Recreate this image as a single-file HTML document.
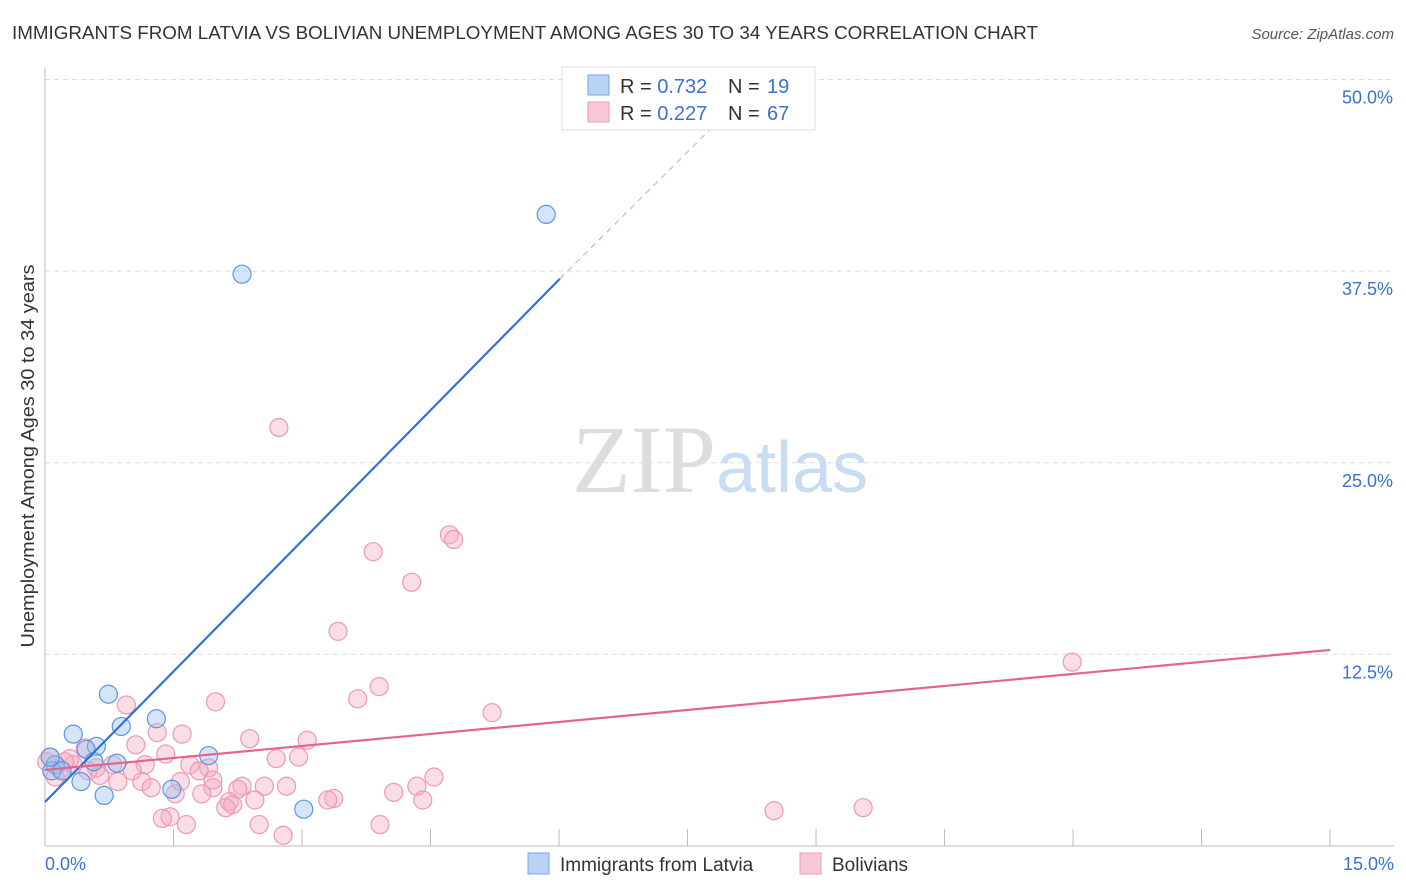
<!DOCTYPE html>
<html><head><meta charset="utf-8"><style>
body{margin:0;background:#fff;font-family:"Liberation Sans",sans-serif}
svg{display:block}
</style></head><body>
<svg id="chart" width="1406" height="892">
<text x="12" y="39" font-size="18" fill="#333" textLength="1026" lengthAdjust="spacingAndGlyphs">IMMIGRANTS FROM LATVIA VS BOLIVIAN UNEMPLOYMENT AMONG AGES 30 TO 34 YEARS CORRELATION CHART</text>
<text x="1394" y="39" font-size="15" fill="#555" font-style="italic" text-anchor="end">Source: ZipAtlas.com</text>
<text x="720" y="492" font-size="96" fill="#ddd" text-anchor="middle" font-family="Liberation Serif,serif">ZIP<tspan fill="#c9dcf2" font-family="Liberation Sans,sans-serif" font-size="72">atlas</tspan></text>
<text transform="translate(34,456) rotate(-90)" font-size="18" fill="#333" text-anchor="middle" textLength="383" lengthAdjust="spacingAndGlyphs">Unemployment Among Ages 30 to 34 years</text>
<g id="grid"></g><g id="pts"></g><g id="lines"></g>
<g>
<rect x="562" y="67" width="253" height="63" fill="#fff" stroke="#ddd"/>
<rect x="588" y="75" width="21" height="20" fill="#b8d3f5" stroke="#7aa7e0"/>
<rect x="588" y="102" width="21" height="20" fill="#f9c8d6" stroke="#eb9ab2"/>
<text x="620" y="93" font-size="20" fill="#333">R = <tspan fill="#3a72d0">0.732</tspan><tspan x="728">N = </tspan><tspan fill="#3a72d0" x="767">19</tspan></text>
<text x="620" y="120" font-size="20" fill="#333">R = <tspan fill="#3a72d0">0.227</tspan><tspan x="728">N = </tspan><tspan fill="#3a72d0" x="767">67</tspan></text>
</g>
<g>
<rect x="528" y="853" width="21" height="21" fill="#b8d3f5" stroke="#7aa7e0"/>
<text x="560" y="871" font-size="19" fill="#333">Immigrants from Latvia</text>
<rect x="800" y="853" width="21" height="21" fill="#f9c8d6" stroke="#eb9ab2"/>
<text x="832" y="871" font-size="19" fill="#333">Bolivians</text>
</g>
</svg>
<script>
const xTicks=[0,15];
const yTicks=[12.5,25,37.5,50];
const latviaX=[2.30,5.85,0.74,1.30,0.89,0.33,0.60,0.48,1.91,0.84,0.57,0.12,0.08,0.20,0.42,0.69,1.48,3.02,0.06];
const latviaY=[37.3,41.2,9.9,8.3,7.8,7.3,6.5,6.3,5.9,5.4,5.5,5.3,4.9,4.9,4.2,3.3,3.7,2.4,5.8];
const bolX=[2.73,4.72,4.77,3.83,4.28,3.42,11.99,3.90,3.65,1.99,0.95,5.22,1.60,1.31,2.39,3.06,1.06,1.41,0.47,2.96,2.70,1.69,1.91,1.80,1.17,0.79,0.60,0.50,0.18,0.29,0.02,0.64,0.85,1.13,1.58,1.24,1.96,2.30,2.25,2.56,2.82,4.54,4.34,2.15,2.19,1.83,2.45,3.37,3.30,4.07,4.41,1.46,1.37,1.65,2.11,2.50,2.78,3.91,8.51,9.55,0.33,0.06,0.23,1.02,1.96,1.52,0.12];
const bolY=[27.3,20.3,20.0,19.2,17.2,14.0,12.0,10.4,9.6,9.4,9.2,8.7,7.3,7.4,7.0,6.9,6.6,6.0,6.4,5.8,5.7,5.3,5.1,4.9,5.3,5.3,5.1,4.9,5.0,5.7,5.5,4.6,4.2,4.2,4.2,3.8,3.8,3.9,3.7,3.9,3.9,4.5,3.9,2.9,2.7,3.4,3.0,3.1,3.0,3.5,3.0,1.9,1.8,1.4,2.5,1.4,0.7,1.4,2.3,2.5,5.3,5.8,5.5,4.9,4.3,3.4,4.5];
const latviaLine=[[0,2.87],[6.01,37.0]],latviaDash=[[6.01,37.0],[7.9,47.5]];
const bolLine=[[0,4.96],[15,12.79]];
const X=v=>45+v*85.67, Y=v=>846-v*15.33;
const NS="http://www.w3.org/2000/svg";
function mk(tag,attrs,parent){const e=document.createElementNS(NS,tag);for(const k in attrs)e.setAttribute(k,attrs[k]);parent.appendChild(e);return e;}
const grid=document.getElementById('grid');
yTicks.forEach(t=>{
 const l=mk('line',{x1:45,x2:1394,y1:Y(t),y2:Y(t),stroke:'#ddd','stroke-dasharray':'5,4'},grid);
 
 
 const tx=mk('text',{x:1393,y:Y(t)+24,'font-size':18,fill:'#3a72d0','text-anchor':'end'},grid);
 tx.textContent=t.toFixed(1)+'%';
 
 
});
mk('line',{x1:45,x2:45,y1:68,y2:846,stroke:'#bbb'},grid);
mk('line',{x1:45,x2:1394,y1:846,y2:846,stroke:'#bbb'},grid);
for(let i=1;i<=10;i++){const x=X(i*1.5);mk('line',{x1:x,x2:x,y1:829,y2:846,stroke:'#bbb'},grid);}
xTicks.forEach((t,i)=>{
 const tx=mk('text',{x:i==0?45:1394,y:870,'font-size':18,fill:'#3a72d0','text-anchor':i==0?'start':'end'},grid);
 tx.textContent=t.toFixed(1)+'%';
 
 
});
const pts=document.getElementById('pts');
bolX.forEach((x,i)=>{
 const c=mk('circle',{cx:X(x),cy:Y(bolY[i]),r:9,fill:'rgba(246,170,195,0.4)',stroke:'#eb9ab2','stroke-width':1.2},pts);
 
 
});
latviaX.forEach((x,i)=>{
 const c=mk('circle',{cx:X(x),cy:Y(latviaY[i]),r:9,fill:'rgba(150,190,240,0.4)',stroke:'#5f95de','stroke-width':1.2},pts);
 
 
});
const lines=document.getElementById('lines');
let l1=mk('line',{x1:X(latviaLine[0][0]),y1:Y(latviaLine[0][1]),x2:X(latviaLine[1][0]),y2:Y(latviaLine[1][1]),stroke:'#2f73d6','stroke-width':2.2},lines);


let l2=mk('line',{x1:X(latviaDash[0][0]),y1:Y(latviaDash[0][1]),x2:X(latviaDash[1][0]),y2:Y(latviaDash[1][1]),stroke:'#9bbbe6','stroke-width':1,'stroke-dasharray':'6,5'},lines);


let l3=mk('line',{x1:X(bolLine[0][0]),y1:Y(bolLine[0][1]),x2:X(bolLine[1][0]),y2:Y(bolLine[1][1]),stroke:'#e5648f','stroke-width':2.2},lines);


</script>
</body></html>
